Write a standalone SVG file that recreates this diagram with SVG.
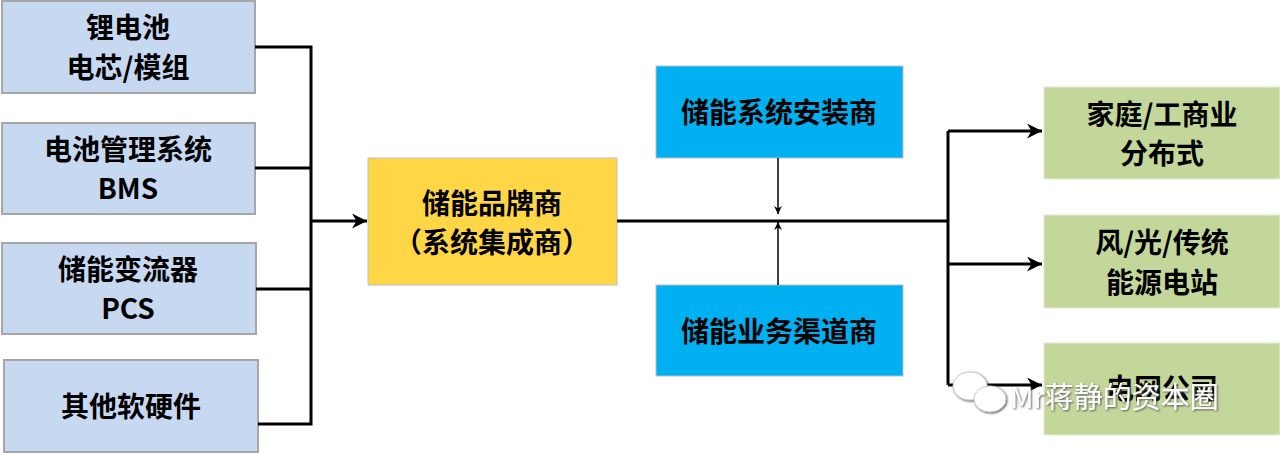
<svg xmlns="http://www.w3.org/2000/svg" width="1280" height="453" viewBox="0 0 1280 453">
<defs>
<style>
.t{font-family:"Noto Sans CJK SC","Noto Sans",sans-serif;font-weight:bold;font-size:28px;fill:#000;text-anchor:middle}
.l{fill:none;stroke:#000;stroke-width:3}
.s{fill:none;stroke:#000;stroke-width:1.5}
.b{fill:#c6d9f1;stroke:#a6a6a6;stroke-width:2}
.g{fill:#c4d79b;stroke:#e3ebd0;stroke-width:1}
.c{fill:#00b0f0;stroke:#bfbfbf;stroke-width:1}
.y{fill:#ffd645;stroke:#bfbfbf;stroke-width:1}
</style>
<marker id="a" viewBox="0 0 10 10" refX="10" refY="5" markerWidth="8" markerHeight="8" markerUnits="userSpaceOnUse" orient="auto"><path d="M0,0L10,5L0,10L3,5z" fill="#000"/></marker>
<marker id="A" viewBox="0 0 10 10" refX="10" refY="5" markerWidth="15" markerHeight="15" markerUnits="userSpaceOnUse" orient="auto"><path d="M0,0L10,5L0,10L3,5z" fill="#000"/></marker>
<filter id="sh"><feDropShadow dx="1" dy="1" stdDeviation="0.8" flood-color="#555"/></filter>
</defs>
<g id="n1"><rect class="b" x="2" y="1" width="253" height="92"/><text class="t" x="128" y="38">锂电池</text><text class="t" x="128" y="78">电芯/模组</text></g>
<g id="n2"><rect class="b" x="2" y="123" width="253" height="91"/><text class="t" x="128" y="160">电池管理系统</text><text class="t" x="128" y="199">BMS</text></g>
<g id="n3"><rect class="b" x="2" y="243" width="254" height="91"/><text class="t" x="128" y="280">储能变流器</text><text class="t" x="128" y="319">PCS</text></g>
<g id="n4"><rect class="b" x="4" y="360" width="254" height="92"/><text class="t" x="131" y="417">其他软硬件</text></g>
<g id="n5"><rect class="y" x="368" y="158" width="249" height="127"/><text class="t" x="492" y="214">储能品牌商</text><text class="t" x="492" y="253">（系统集成商）</text></g>
<g id="n6"><rect class="c" x="656" y="66" width="247" height="92"/><text class="t" x="779" y="123">储能系统安装商</text></g>
<g id="n7"><rect class="c" x="656" y="285" width="247" height="91"/><text class="t" x="779" y="342">储能业务渠道商</text></g>
<g id="n8"><rect class="g" x="1044" y="87" width="236" height="92"/><text class="t" x="1162" y="125">家庭/工商业</text><text class="t" x="1162" y="164">分布式</text></g>
<g id="n9"><rect class="g" x="1044" y="215" width="236" height="93"/><text class="t" x="1162" y="253">风/光/传统</text><text class="t" x="1162" y="293">能源电站</text></g>
<g id="n10"><rect class="g" x="1044" y="343" width="236" height="92"/><text class="t" x="1162" y="399">电网公司</text></g>
<g id="connectors">
<path class="l" d="M255,47H311V424H258M255,168H311M256,289H311"/>
<path class="l" d="M311,221H367" marker-end="url(#A)"/>
<path class="l" d="M617,221H948"/>
<path class="l" d="M948,131V385"/>
<path class="l" d="M948,131H1042" marker-end="url(#A)"/>
<path class="l" d="M948,264H1042" marker-end="url(#A)"/>
<path class="l" d="M948,385H1042" marker-end="url(#A)"/>
<path class="s" d="M778,158V214" marker-end="url(#a)"/>
<path class="s" d="M778,285V222" marker-end="url(#a)"/>
</g>
<g id="watermark" filter="url(#sh)">
<ellipse cx="970" cy="386" rx="17" ry="14" fill="#fff" stroke="#ccc"/>
<ellipse cx="990" cy="399" rx="16" ry="13" fill="#fff" stroke="#ccc"/>
<text x="1010" y="408" style="font-family:'Noto Sans CJK SC',sans-serif;font-size:29px;fill:#fff">Mr蒋静的资本圈</text>
</g>
</svg>
